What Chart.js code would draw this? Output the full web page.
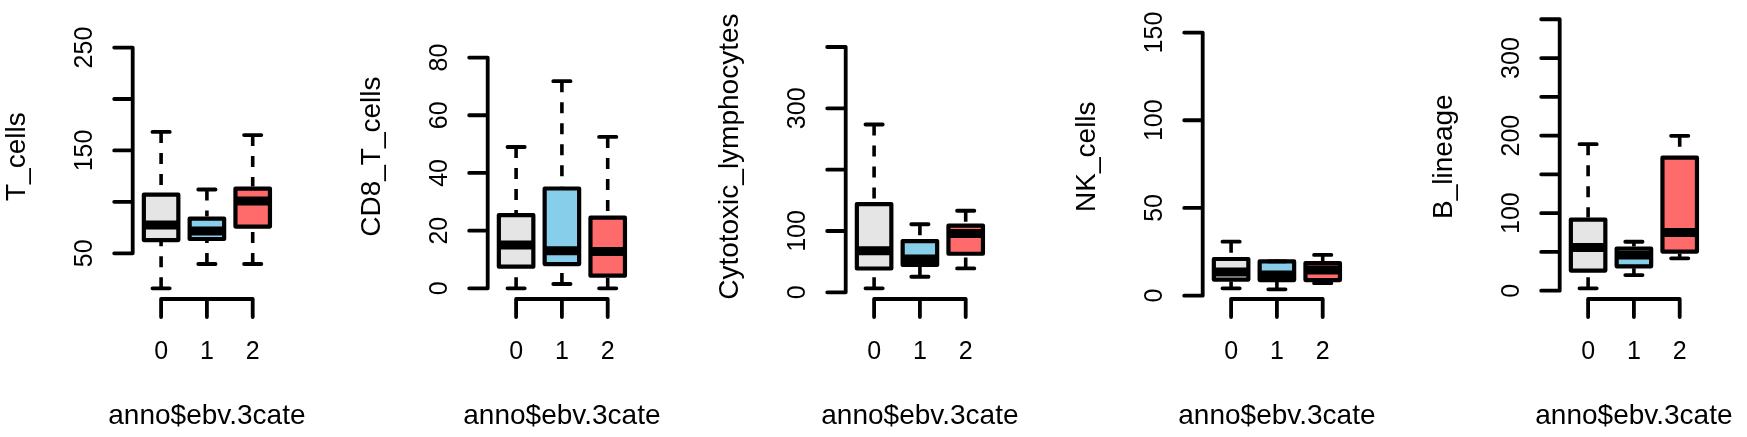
<!DOCTYPE html>
<html>
<head>
<meta charset="utf-8">
<script src="https://cdn.jsdelivr.net/npm/chart.js@4.4.0/dist/chart.umd.min.js"></script>
<style>
  html, body { margin: 0; padding: 0; background: #ffffff; width: 1747px; height: 437px; overflow: hidden; }
  body { position: relative; }
  .panel { position: absolute; top: 0; width: 357px; height: 437px; }
  .panel canvas { display: block; }
</style>
</head>
<body>
<div class="panel" id="p0"><canvas id="c0" width="357" height="437"></canvas></div>
<div class="panel" id="p1"><canvas id="c1" width="357" height="437"></canvas></div>
<div class="panel" id="p2"><canvas id="c2" width="357" height="437"></canvas></div>
<div class="panel" id="p3"><canvas id="c3" width="357" height="437"></canvas></div>
<div class="panel" id="p4"><canvas id="c4" width="357" height="437"></canvas></div>
<script>
// ---------------- data ----------------
const categories = ['0', '1', '2'];
const panelTitles = ['T_cells', 'CD8_T_cells', 'Cytotoxic_lymphocytes', 'NK_cells', 'B_lineage'];
const xTitle = 'anno$ebv.3cate';

const whiskerLow  = [[16, 39.6, 39.6], [0, 1.5, 0],     [6.5, 25.4, 39],    [4.2, 3.6, 7.1],  [3.1, 20.2, 41.7]];
const quartile1   = [[62.9, 63.9, 76], [7.5, 8.4, 4.4], [38.8, 44.5, 62.9], [9.2, 8.9, 8.9],  [26, 31.4, 50.5]];
const medians     = [[77.5, 71.7, 100.8], [15, 13, 12.8], [67.8, 54.2, 96], [13.5, 11.8, 14.6], [55.6, 46, 75]];
const quartile3   = [[107.1, 83.8, 112.9], [25.4, 34.6, 24.5], [143.8, 83.5, 108.8], [20.9, 19.5, 18.6], [91.7, 54.4, 171.5]];
const whiskerHigh = [[168, 112, 164.9], [49, 71.8, 52.5], [273.6, 111, 133], [30.8, 19.5, 23.2], [189, 63.1, 199.7]];

const yTicks = [
  [50, 100, 150, 200, 250],
  [0, 20, 40, 60, 80],
  [0, 100, 200, 300, 400],
  [0, 50, 100, 150],
  [0, 50, 100, 150, 200, 250, 300, 350]
];
const yTickLabels = [
  ['50', '', '150', '', '250'],
  ['0', '20', '40', '60', '80'],
  ['0', '100', '', '300', ''],
  ['0', '50', '100', '150'],
  ['0', '', '100', '', '200', '', '300', '']
];
const yMin = [5.6, -3.7, -10.9, -1.9, -10.7];
const yMax = [282.3, 95.0, 453.3, 160.4, 356.4];

const groupColors = ['#E5E5E5', '#87CEEB', '#FF6A6A'];

// ---------------- layout / style ----------------
const panelLefts = [0, 355, 713, 1070, 1427];
const FONT = '"Liberation Sans", Arial, Helvetica, sans-serif';
const LW = 3.8;

function makeRPlugin(i) {
  return {
    id: 'rbox' + i,
    afterDatasetsDraw(chart) {
      const ctx = chart.ctx;
      const xs = chart.scales.x, ys = chart.scales.y;
      const ca = chart.chartArea;
      const meta = chart.getDatasetMeta(0);
      ctx.save();
      ctx.strokeStyle = '#000';
      ctx.fillStyle = '#000';

      categories.forEach((c, j) => {
        const bar = meta.data[j];
        const px = bar.x;
        const half = bar.width / 2;
        const capHalf = half * 0.5;
        const yq1 = ys.getPixelForValue(quartile1[i][j]);
        const yq3 = ys.getPixelForValue(quartile3[i][j]);
        const ylo = ys.getPixelForValue(whiskerLow[i][j]);
        const yhi = ys.getPixelForValue(whiskerHigh[i][j]);
        const ymed = ys.getPixelForValue(medians[i][j]);

        // box outline (stroke centred on the quartile lines, as in R)
        ctx.lineWidth = 4.2;
        ctx.lineJoin = 'round';
        ctx.setLineDash([]);
        ctx.strokeRect(px - half, yq3, 2 * half, yq1 - yq3);

        // median
        ctx.lineWidth = 9;
        ctx.lineCap = 'butt';
        ctx.beginPath();
        ctx.moveTo(px - half, ymed); ctx.lineTo(px + half, ymed);
        ctx.stroke();

        // dashed whiskers (drawn from whisker end toward the box)
        ctx.lineWidth = 3.6;
        ctx.lineCap = 'butt';
        ctx.setLineDash([11, 10]);
        ctx.beginPath();
        ctx.moveTo(px, yhi); ctx.lineTo(px, yq3 - 2);
        ctx.moveTo(px, ylo); ctx.lineTo(px, yq1 + 2);
        ctx.stroke();
        ctx.setLineDash([]);

        // staples
        ctx.lineWidth = LW;
        ctx.lineCap = 'round';
        ctx.beginPath();
        ctx.moveTo(px - capHalf, yhi); ctx.lineTo(px + capHalf, yhi);
        ctx.moveTo(px - capHalf, ylo); ctx.lineTo(px + capHalf, ylo);
        ctx.stroke();
      });

      // y axis (R style: line spans first..last tick)
      const ticks = yTicks[i];
      const yTop = ys.getPixelForValue(ticks[ticks.length - 1]);
      const yBot = ys.getPixelForValue(ticks[0]);
      ctx.lineWidth = LW;
      ctx.lineCap = 'round';
      ctx.beginPath();
      ctx.moveTo(ca.left, yBot); ctx.lineTo(ca.left, yTop);
      ticks.forEach(t => {
        const yy = ys.getPixelForValue(t);
        ctx.moveTo(ca.left - 18.5, yy); ctx.lineTo(ca.left, yy);
      });
      ctx.stroke();

      ctx.font = '25px ' + FONT;
      ctx.textAlign = 'center';
      ctx.textBaseline = 'alphabetic';
      ticks.forEach((t, k) => {
        const lab = yTickLabels[i][k];
        if (!lab) return;
        const yy = ys.getPixelForValue(t);
        ctx.save();
        ctx.translate(ca.left - 41, yy);
        ctx.rotate(-Math.PI / 2);
        ctx.fillText(lab, 0, 0);
        ctx.restore();
      });

      // x axis
      const x0 = xs.getPixelForValue(1);
      const x2 = xs.getPixelForValue(categories.length);
      ctx.beginPath();
      ctx.moveTo(x0, ca.bottom); ctx.lineTo(x2, ca.bottom);
      categories.forEach((c, j) => {
        const px = xs.getPixelForValue(j + 1);
        ctx.moveTo(px, ca.bottom); ctx.lineTo(px, ca.bottom + 18);
      });
      ctx.stroke();
      categories.forEach((c, j) => {
        const px = xs.getPixelForValue(j + 1);
        ctx.fillText(c, px, ca.bottom + 60);
      });

      // axis titles
      ctx.font = '28px ' + FONT;
      ctx.fillText(xTitle, (ca.left + ca.right) / 2, ca.bottom + 125);
      ctx.save();
      ctx.translate(ca.left - 108, (ca.top + ca.bottom) / 2);
      ctx.rotate(-Math.PI / 2);
      ctx.fillText(panelTitles[i], 0, 0);
      ctx.restore();

      ctx.restore();
    }
  };
}

panelTitles.forEach((name, i) => {
  document.getElementById('p' + i).style.left = panelLefts[i] + 'px';
  const ctx = document.getElementById('c' + i).getContext('2d');
  new Chart(ctx, {
    type: 'bar',
    data: {
      datasets: [{
        label: name,
        data: categories.map((c, j) => ({ x: j + 1, y: [quartile1[i][j], quartile3[i][j]] })),
        backgroundColor: groupColors,
        borderWidth: 0,
        barThickness: 34.5
      }]
    },
    options: {
      responsive: false,
      maintainAspectRatio: false,
      animation: false,
      layout: { padding: { left: 132.7, right: 75.9, top: 14.3, bottom: 138 } },
      plugins: { legend: { display: false }, tooltip: { enabled: false }, title: { display: false } },
      scales: {
        x: { type: 'linear', min: 0.38, max: 3.62, offset: false, bounds: 'ticks', display: false },
        y: { type: 'linear', min: yMin[i], max: yMax[i], offset: false, display: false }
      }
    },
    plugins: [makeRPlugin(i)]
  });
});
</script>
</body>
</html>
